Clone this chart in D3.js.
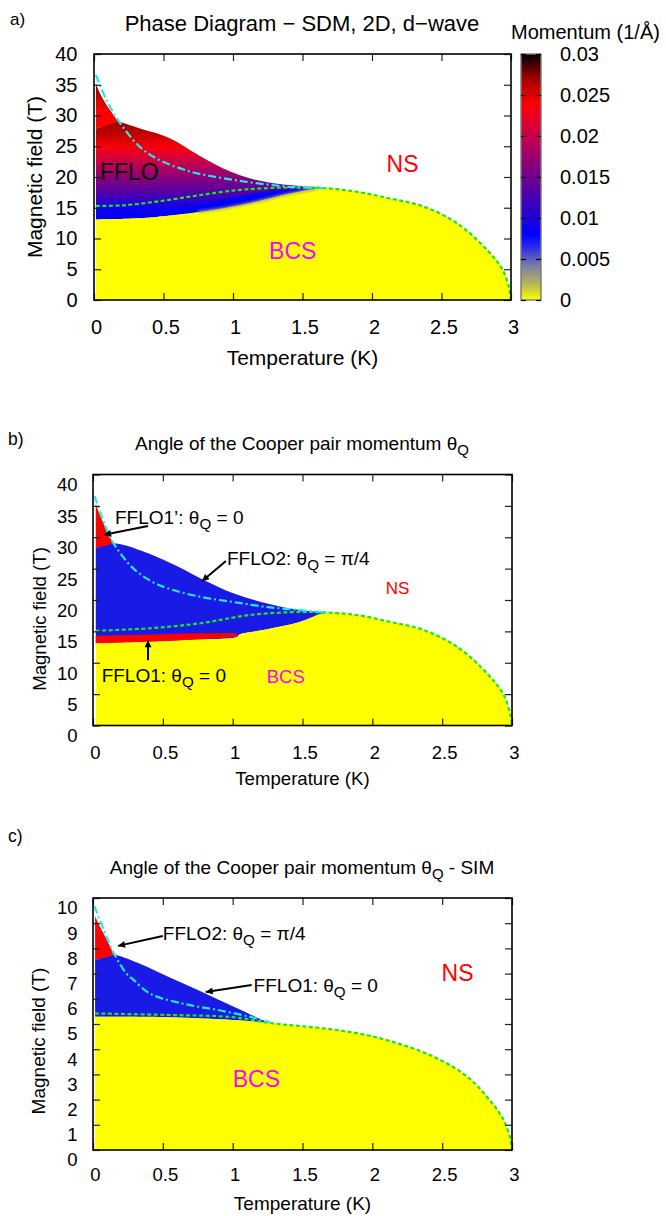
<!DOCTYPE html>
<html>
<head>
<meta charset="utf-8">
<script src="https://cdn.jsdelivr.net/npm/d3@7"></script>
<style>
  body { margin: 0; background: #fff; }
  svg { display: block; font-family: "Liberation Sans", Arial, Helvetica, sans-serif; }
  text { white-space: pre; }
</style>
</head>
<body>
<svg id="chart" width="666" height="1216"></svg>
<script>
// ---------- data (temperature K, magnetic field T) ----------
const xTicks = [0, 0.5, 1, 1.5, 2, 2.5, 3];
const xTickLabels = ['0', '0.5', '1', '1.5', '2', '2.5', '3'];
const yTicks40 = [0, 5, 10, 15, 20, 25, 30, 35, 40];
const yTicks10 = [0, 1, 2, 3, 4, 5, 6, 7, 8, 9, 10];

// momentum colour palette (colorbar of panel a)
const paletteQ = [0, 0.002, 0.004, 0.0065, 0.008, 0.011, 0.016, 0.02, 0.024, 0.027, 0.03];
const paletteColors = ['#ffff00', '#b4b45a', '#8282a0', '#2828f0', '#0000ff', '#3000c8',
                       '#800080', '#c80050', '#ff0000', '#a00000', '#000000'];
const cbTicks = [0, 0.005, 0.01, 0.015, 0.02, 0.025, 0.03];
const cbLabels = ['0', '0.005', '0.01', '0.015', '0.02', '0.025', '0.03'];

// panel a - SDM
const bcsTopA = [[0.014, 13.1], [0.33, 13.3], [0.45, 13.5], [0.69, 14.1], [0.93, 14.9],
                 [1.17, 16.0], [1.41, 17.3], [1.65, 18.2]];
const bcsOuterA = [[1.65, 18.2], [1.89, 17.6], [2.13, 16.5], [2.37, 15.2], [2.61, 12.5],
                   [2.83, 8.1], [2.94, 4.9], [2.99, 1.6], [3.0, 0]];
const greenA = [[0.014, 15.3], [0.21, 15.4], [0.45, 16.0], [0.69, 16.8], [0.93, 17.6],
                [1.05, 17.9], [1.17, 18.1], [1.41, 18.3], [1.65, 18.2]];
const cyanA = [[0.014, 36.6], [0.09, 32.5], [0.19, 28.7], [0.33, 24.9], [0.45, 23.0],
               [0.69, 20.9], [0.93, 19.8], [1.17, 19.0], [1.41, 18.4], [1.65, 18.2]];
const ffloTopA = [[0.014, 27.9], [0.175, 29.0], [0.21, 28.8], [0.33, 27.9], [0.45, 27.1],
                  [0.57, 26.0], [0.69, 24.4], [0.81, 22.8], [0.93, 21.4], [1.05, 20.3],
                  [1.17, 19.5], [1.29, 19.0], [1.41, 18.7], [1.65, 18.2]];
const spikeTopA = [[0.014, 35.2], [0.043, 33.6], [0.09, 31.7], [0.14, 30.1], [0.175, 29.0]];
const spikeBottomA = [[0.014, 27.9], [0.175, 29.0]];
// bright blue strip along the BCS edge at higher temperature
const blueEdgeTopA = [[0.55, 14.8], [0.8, 15.8], [1.05, 16.9], [1.3, 17.8], [1.65, 18.2]];
const blueEdgeBottomA = [[0.55, 13.8], [0.8, 14.4], [1.05, 15.4], [1.3, 16.7], [1.65, 18.2]];
const fadeEdgeA = [[0.75, 14.35], [0.93, 14.9], [1.17, 16.0], [1.41, 17.3], [1.6, 18.1]];
// momentum inside the FFLO phase against field
const ffloH = [13, 15, 17, 19.5, 22, 25, 27, 29];
const ffloQ = [0.0082, 0.009, 0.0125, 0.016, 0.0195, 0.0235, 0.026, 0.027];
const spikeH = [28, 31, 35.5];
const spikeQ = [0.0238, 0.0242, 0.0275];
const edgeQ = 0.0078;
const fadeQ = 0.003;

// panel b - angle of Q, SDM
const bcsTopB = [[0.02, 13.1], [0.41, 13.35], [0.77, 13.7], [1.03, 14.1], [1.05, 14.5],
                 [1.24, 15.3], [1.48, 16.5], [1.67, 18.0]];
const blueTopB = [[0.02, 28.3], [0.145, 29.0], [0.2, 28.9], [0.4, 27.4], [0.6, 25.4],
                  [0.8, 23.1], [1.0, 21.1], [1.24, 19.5], [1.48, 18.4], [1.67, 18.0]];
const redBandTopB = [[0.02, 14.3], [0.41, 14.5], [0.77, 14.7], [1.03, 14.7]];
const redBandBottomB = [[0.02, 13.1], [0.41, 13.35], [0.77, 13.7], [1.03, 14.1]];
const spikeTopB = [[0.02, 35.3], [0.05, 33.5], [0.1, 31.0], [0.145, 29.0]];
const spikeBottomB = [[0.02, 28.3], [0.145, 29.0]];
const greenB = [[0.02, 15.1], [0.41, 15.5], [0.77, 16.3], [1.12, 17.6], [1.48, 18.1], [1.67, 18.0]];
const cyanB = [[0.01, 36.6], [0.06, 33.5], [0.12, 30.1], [0.2, 27.3], [0.29, 25.0], [0.4, 23.2],
               [0.53, 21.9], [0.77, 20.5], [1.0, 19.7], [1.24, 18.9], [1.48, 18.4], [1.67, 18.0]];

// panel c - angle of Q, SIM
const bcsTopC = [[0.015, 5.29], [0.53, 5.27], [1.0, 5.16], [1.28, 5.03]];
const bcsOuterC = [[1.28, 5.03], [1.48, 4.92], [1.72, 4.78], [1.96, 4.56], [2.2, 4.2],
                   [2.44, 3.7], [2.68, 2.91], [2.84, 1.98], [2.94, 1.19], [2.99, 0.4], [3.0, 0]];
const blueTopC = [[0.015, 7.54], [0.15, 7.74], [0.19, 7.7], [0.34, 7.38], [0.55, 6.85],
                  [0.77, 6.3], [1.0, 5.7], [1.24, 5.1], [1.28, 5.03]];
const spikeTopC = [[0.015, 9.29], [0.05, 8.86], [0.1, 8.33], [0.15, 7.74]];
const spikeBottomC = [[0.015, 7.54], [0.15, 7.74]];
const greenC = [[0.015, 5.42], [0.53, 5.36], [1.0, 5.27], [1.28, 5.03]];
const cyanC = [[0.01, 9.68], [0.08, 8.7], [0.15, 7.8], [0.24, 7.0], [0.29, 6.75], [0.41, 6.2],
               [0.65, 5.8], [0.89, 5.56], [1.12, 5.29], [1.27, 5.06]];

// annotations (text anchor, arrow start, arrow tip) in data units
const notesB = [
  { parts: [['FFLO1’: θ', 0], ['Q', 1], [' = 0', 0]], at: [0.157, 32.1], from: [0.394, 31.8], to: [0.079, 30.4] },
  { parts: [['FFLO2: θ', 0], ['Q', 1], [' = π/4', 0]], at: [0.959, 25.6], from: [0.952, 26.2], to: [0.78, 23.0] },
  { parts: [['FFLO1: θ', 0], ['Q', 1], [' = 0', 0]], at: [0.062, 7.0], from: [0.394, 10.4], to: [0.394, 13.6] }
];
const notesC = [
  { parts: [['FFLO2: θ', 0], ['Q', 1], [' = π/4', 0]], at: [0.5, 8.33], from: [0.5, 8.49], to: [0.179, 8.1] },
  { parts: [['FFLO1: θ', 0], ['Q', 1], [' = 0', 0]], at: [1.15, 6.28], from: [1.136, 6.55], to: [0.807, 6.27] }
];

// ---------- drawing ----------
const svg = d3.select('#chart');
const defs = svg.append('defs');
const palette = d3.scaleLinear().domain(paletteQ).range(paletteColors).interpolate(d3.interpolateRgb);

defs.append('marker')
    .attr('id', 'arrow')
    .attr('viewBox', '0 0 10 10')
    .attr('refX', 10).attr('refY', 5)
    .attr('markerWidth', 11).attr('markerHeight', 7)
    .attr('markerUnits', 'userSpaceOnUse')
    .attr('orient', 'auto')
    .append('path').attr('d', 'M0,0L10,5L0,10Z').attr('fill', '#000');

defs.append('filter').attr('id', 'soft').attr('x', '-10%').attr('y', '-50%')
    .attr('width', '120%').attr('height', '200%')
    .append('feGaussianBlur').attr('stdDeviation', 1.3);

function setupPanel(box) {
    const x = d3.scaleLinear().domain([0, 3]).range([box.left, box.right]);
    const y = d3.scaleLinear().domain([0, box.yMax]).range([box.bottom, box.top]);
    const g = svg.append('g');
    return { x, y, g, box };
}

function curve(P) {
    return d3.line().curve(d3.curveCatmullRom.alpha(0.5)).x((d) => P.x(d[0])).y((d) => P.y(d[1]));
}

// closed region between an upper and a lower boundary
function regionPath(P, upper, lower) {
    const l = curve(P);
    return l(upper) + 'L' + l(lower.slice().reverse()).slice(1) + 'Z';
}

// superconducting region under a boundary down to H = 0
function bcsPath(P, boundary) {
    const first = boundary[0];
    return curve(P)(boundary) + `L${P.x(3)},${P.y(0)}L${P.x(first[0])},${P.y(0)}Z`;
}

function vGradient(id, P, hs, qs) {
    const grad = defs.append('linearGradient')
        .attr('id', id)
        .attr('gradientUnits', 'userSpaceOnUse')
        .attr('x1', 0).attr('x2', 0)
        .attr('y1', P.y(hs[0])).attr('y2', P.y(hs[hs.length - 1]));
    const h0 = hs[0], h1 = hs[hs.length - 1];
    hs.forEach((h, i) => {
        grad.append('stop')
            .attr('offset', (h - h0) / (h1 - h0))
            .attr('stop-color', palette(qs[i]));
    });
}

function drawLines(P, green, cyan) {
    P.g.append('path').attr('d', curve(P)(green))
        .attr('fill', 'none').attr('stroke', '#1ee61e').attr('stroke-width', 2.2)
        .attr('stroke-dasharray', '4,2.5');
    P.g.append('path').attr('d', curve(P)(cyan))
        .attr('fill', 'none').attr('stroke', '#22e8e8').attr('stroke-width', 2.2)
        .attr('stroke-dasharray', '8,3,2,3');
}

function drawAxes(P, opt) {
    const { x, y, g, box } = P;
    const tickSize = -7;
    const bottom = g.append('g').attr('transform', `translate(0,${box.bottom})`)
        .call(d3.axisBottom(x).tickValues(xTicks).tickFormat((d, i) => xTickLabels[i])
            .tickSizeInner(tickSize).tickSizeOuter(0).tickPadding(opt.xPad));
    bottom.selectAll('text').attr('x', 2);
    g.append('g').attr('transform', `translate(0,${box.top})`)
        .call(d3.axisTop(x).tickValues(xTicks).tickFormat('').tickSizeInner(tickSize).tickSizeOuter(0));
    const left = g.append('g').attr('transform', `translate(${box.left},0)`)
        .call(d3.axisLeft(y).tickValues(opt.yTicks).tickFormat((d) => String(d))
            .tickSizeInner(tickSize).tickSizeOuter(0).tickPadding(box.left - 77.5));
    left.selectAll('text').attr('y', opt.yShift);
    g.append('g').attr('transform', `translate(${box.right},0)`)
        .call(d3.axisRight(y).tickValues(opt.yTicks).tickFormat('').tickSizeInner(tickSize).tickSizeOuter(0));

    g.selectAll('.domain').remove();
    g.selectAll('.tick line').attr('stroke', '#222').attr('stroke-width', 1.2);
    g.selectAll('g').attr('font-family', null).attr('font-size', null);
    g.selectAll('.tick text').attr('font-size', opt.tickFont).attr('fill', '#000');

    g.append('rect')
        .attr('x', box.left).attr('y', box.top)
        .attr('width', box.right - box.left).attr('height', box.bottom - box.top)
        .attr('fill', 'none').attr('stroke', '#000').attr('stroke-width', 1.6);

    // axis titles
    g.append('text')
        .attr('x', (box.left + box.right) / 2).attr('y', opt.xTitleY)
        .attr('text-anchor', 'middle').attr('font-size', opt.titleFont)
        .text('Temperature (K)');
    g.append('text')
        .attr('transform', `translate(${opt.yTitleX},${opt.yTitleMid}) rotate(-90)`)
        .attr('text-anchor', 'middle').attr('font-size', opt.titleFont)
        .text('Magnetic field (T)');
}

function rich(g, x, y, parts, size) {
    const t = g.append('text').attr('x', x).attr('y', y).attr('font-size', size);
    let shifted = false;
    parts.forEach(([s, sub]) => {
        let dy = 0;
        if (sub && !shifted) dy = size * 0.28;
        if (!sub && shifted) dy = -size * 0.28;
        t.append('tspan').attr('dy', dy).attr('font-size', sub ? size * 0.8 : size).text(s);
        shifted = !!sub;
    });
    return t;
}

function drawNotes(P, notes, size) {
    notes.forEach((n) => {
        rich(P.g, P.x(n.at[0]), P.y(n.at[1]), n.parts, size);
        P.g.append('line')
            .attr('x1', P.x(n.from[0])).attr('y1', P.y(n.from[1]))
            .attr('x2', P.x(n.to[0])).attr('y2', P.y(n.to[1]))
            .attr('stroke', '#000').attr('stroke-width', 2)
            .attr('marker-end', 'url(#arrow)');
    });
}

function phaseLabel(P, text, t, h, size, color) {
    P.g.append('text')
        .attr('x', P.x(t)).attr('y', P.y(h))
        .attr('dy', '0.36em').attr('text-anchor', 'middle')
        .attr('font-size', size).attr('fill', color)
        .text(text);
}

function heading(x, y, text, size, anchor) {
    return svg.append('text').attr('x', x).attr('y', y)
        .attr('font-size', size).attr('text-anchor', anchor || 'start').text(text);
}

// ---------- panel a ----------
const A = setupPanel({ left: 94, right: 511, top: 54, bottom: 300, yMax: 40 });
vGradient('gradA', A, ffloH, ffloQ);
vGradient('gradSpikeA', A, spikeH, spikeQ);
A.g.append('path').attr('d', regionPath(A, ffloTopA, bcsTopA)).attr('fill', 'url(#gradA)');
A.g.append('path').attr('d', regionPath(A, spikeTopA, spikeBottomA)).attr('fill', 'url(#gradSpikeA)');
A.g.append('path').attr('d', regionPath(A, blueEdgeTopA, blueEdgeBottomA))
    .attr('fill', palette(edgeQ)).attr('filter', 'url(#soft)');
A.g.append('path').attr('d', bcsPath(A, bcsTopA.concat(bcsOuterA.slice(1)))).attr('fill', palette(0));
A.g.append('path').attr('d', curve(A)(fadeEdgeA))
    .attr('fill', 'none').attr('stroke', palette(fadeQ)).attr('stroke-width', 3)
    .attr('stroke-opacity', 0.7).attr('filter', 'url(#soft)');
drawLines(A, greenA.concat(bcsOuterA.slice(1)), cyanA);
A.g.append('text').attr('x', A.x(0.043)).attr('y', A.y(20.8)).attr('dy', '0.36em')
    .attr('font-size', 23).attr('fill', '#000').text('FFLO');
phaseLabel(A, 'NS', 2.22, 22.1, 23, '#ff0000');
phaseLabel(A, 'BCS', 1.43, 8.0, 23, '#ff00ff');
drawAxes(A, { xPad: 19.5, yTicks: yTicks40, yShift: 0, tickFont: 20, titleFont: 21,
              xTitleY: 365, yTitleX: 42, yTitleMid: 177 });
heading(10, 25, 'a)', 17);
heading(302, 31, 'Phase Diagram − SDM, 2D, d−wave', 22, 'middle');

// colorbar
const cbBox = { left: 521, right: 541, top: 54, bottom: 300 };
const cbY = d3.scaleLinear().domain([0, 0.03]).range([cbBox.bottom, cbBox.top]);
const cbGrad = defs.append('linearGradient').attr('id', 'cbGrad')
    .attr('gradientUnits', 'userSpaceOnUse')
    .attr('x1', 0).attr('x2', 0).attr('y1', cbY(0)).attr('y2', cbY(0.03));
paletteQ.forEach((q, i) => {
    cbGrad.append('stop').attr('offset', q / 0.03).attr('stop-color', paletteColors[i]);
});
const cb = svg.append('g');
cb.append('rect')
    .attr('x', cbBox.left).attr('y', cbBox.top)
    .attr('width', cbBox.right - cbBox.left).attr('height', cbBox.bottom - cbBox.top)
    .attr('fill', 'url(#cbGrad)').attr('stroke', '#777').attr('stroke-width', 1.4);
cb.append('g').attr('transform', `translate(${cbBox.left},0)`)
    .call(d3.axisLeft(cbY).tickValues(cbTicks).tickFormat('').tickSizeInner(-5).tickSizeOuter(0));
const cbAxis = cb.append('g').attr('transform', `translate(${cbBox.right},0)`)
    .call(d3.axisRight(cbY).tickValues(cbTicks).tickFormat((d, i) => cbLabels[i])
        .tickSizeInner(-5).tickSizeOuter(0).tickPadding(19));
cb.selectAll('.domain').remove();
cb.selectAll('.tick line').attr('stroke', '#000').attr('stroke-width', 1.2);
cb.selectAll('g').attr('font-family', null).attr('font-size', null);
cbAxis.selectAll('text').attr('font-size', 20).attr('fill', '#000');
heading(511, 38.5, 'Momentum (1/Å)', 20);

// ---------- panel b ----------
const B = setupPanel({ left: 93, right: 512, top: 474.5, bottom: 725.5, yMax: 40 });
B.g.append('path').attr('d', regionPath(B, blueTopB, bcsTopB)).attr('fill', '#1a1ae6');
B.g.append('path').attr('d', regionPath(B, spikeTopB, spikeBottomB)).attr('fill', '#ff0000');
B.g.append('path').attr('d', regionPath(B, redBandTopB, redBandBottomB)).attr('fill', '#ff0000');
B.g.append('path').attr('d', bcsPath(B, bcsTopB.concat(bcsOuterA.slice(1)))).attr('fill', '#ffff00');
drawLines(B, greenB.concat(bcsOuterA.slice(1)), cyanB);
drawNotes(B, notesB, 19);
phaseLabel(B, 'NS', 2.18, 21.9, 17, '#ff0000');
phaseLabel(B, 'BCS', 1.38, 7.8, 18.5, '#ff00ff');
drawAxes(B, { xPad: 20.5, yTicks: yTicks40, yShift: 10.5, tickFont: 18.5, titleFont: 18.6,
              xTitleY: 785, yTitleX: 46, yTitleMid: 619 });
heading(8, 445, 'b)', 17.5);
const titleB = svg.append('text').attr('x', 302).attr('y', 450).attr('font-size', 19).attr('text-anchor', 'middle');
titleB.append('tspan').text('Angle of the Cooper pair momentum θ');
titleB.append('tspan').attr('dy', 5).attr('font-size', 15).text('Q');

// ---------- panel c ----------
const C = setupPanel({ left: 93, right: 512, top: 898, bottom: 1150, yMax: 10 });
C.g.append('path').attr('d', regionPath(C, blueTopC, bcsTopC)).attr('fill', '#1a1ae6');
C.g.append('path').attr('d', regionPath(C, spikeTopC, spikeBottomC)).attr('fill', '#ff0000');
C.g.append('path').attr('d', bcsPath(C, bcsTopC.concat(bcsOuterC.slice(1)))).attr('fill', '#ffff00');
drawLines(C, greenC.concat(bcsOuterC.slice(1)), cyanC);
drawNotes(C, notesC, 19);
phaseLabel(C, 'NS', 2.61, 7.02, 23, '#ff0000');
phaseLabel(C, 'BCS', 1.17, 2.82, 23, '#ff00ff');
drawAxes(C, { xPad: 18.3, yTicks: yTicks10, yShift: 10, tickFont: 18.5, titleFont: 19,
              xTitleY: 1210, yTitleX: 45, yTitleMid: 1041 });
heading(8, 842, 'c)', 17.5);
const titleC = svg.append('text').attr('x', 302).attr('y', 874).attr('font-size', 19).attr('text-anchor', 'middle');
titleC.append('tspan').text('Angle of the Cooper pair momentum θ');
titleC.append('tspan').attr('dy', 5).attr('font-size', 15).text('Q');
titleC.append('tspan').attr('dy', -5).text(' - SIM');
</script>
</body>
</html>
